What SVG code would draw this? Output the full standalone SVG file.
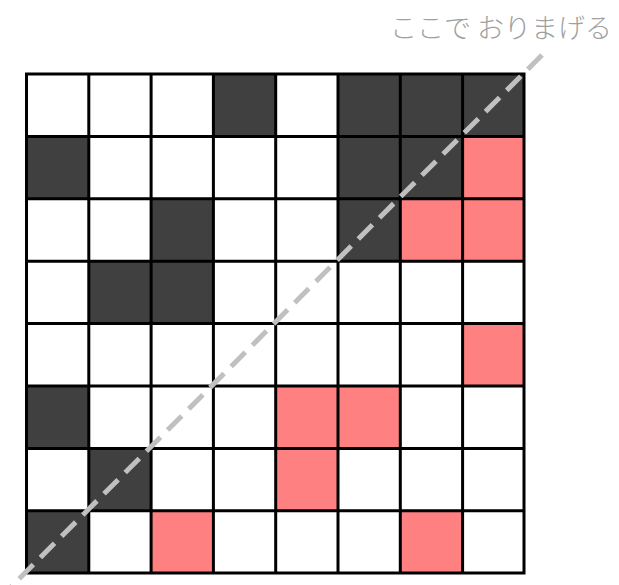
<svg xmlns="http://www.w3.org/2000/svg" width="619" height="585" viewBox="0 0 619 585">
<style>
.w{fill:#ffffff}
.d{fill:#404040}
.p{fill:#ff8080}
.g{stroke:#000;stroke-width:3;fill:none}
.fold{stroke:#c0c0c0;stroke-width:5;stroke-dasharray:20 10;fill:none}
.lbl{font-family:"Noto Sans CJK JP","Noto Sans",sans-serif;font-size:27px;font-weight:300;fill:#a0a0a0}
</style>
<rect width="619" height="585" fill="#fff"/>
<g id="cells">
<rect class="w" x="26.5" y="74" width="497.5" height="499"/>
<!-- row 0 -->
<rect class="d" x="213.4" y="74" width="62.3" height="62.4"/>
<rect class="d" x="338" y="74" width="62.3" height="62.4"/>
<rect class="d" x="400.3" y="74" width="62.3" height="62.4"/>
<rect class="d" x="462.6" y="74" width="61.4" height="62.4"/>
<!-- row 1 -->
<rect class="d" x="26.5" y="136.4" width="62.3" height="62.4"/>
<rect class="d" x="338" y="136.4" width="62.3" height="62.4"/>
<rect class="d" x="400.3" y="136.4" width="62.3" height="62.4"/>
<rect class="p" x="462.6" y="136.4" width="61.4" height="62.4"/>
<!-- row 2 -->
<rect class="d" x="151.1" y="198.8" width="62.3" height="62.4"/>
<rect class="d" x="338" y="198.8" width="62.3" height="62.4"/>
<rect class="p" x="400.3" y="198.8" width="62.3" height="62.4"/>
<rect class="p" x="462.6" y="198.8" width="61.4" height="62.4"/>
<!-- row 3 -->
<rect class="d" x="88.8" y="261.2" width="62.3" height="62.4"/>
<rect class="d" x="151.1" y="261.2" width="62.3" height="62.4"/>
<!-- row 4 -->
<rect class="p" x="462.6" y="323.6" width="61.4" height="62.4"/>
<!-- row 5 -->
<rect class="d" x="26.5" y="386" width="62.3" height="62.4"/>
<rect class="p" x="275.7" y="386" width="62.3" height="62.4"/>
<rect class="p" x="338" y="386" width="62.3" height="62.4"/>
<!-- row 6 -->
<rect class="d" x="88.8" y="448.4" width="62.3" height="62.4"/>
<rect class="p" x="275.7" y="448.4" width="62.3" height="62.4"/>
<!-- row 7 -->
<rect class="d" x="26.5" y="510.8" width="62.3" height="62.2"/>
<rect class="p" x="151.1" y="510.8" width="62.3" height="62.2"/>
<rect class="p" x="400.3" y="510.8" width="62.3" height="62.2"/>
</g>
<g id="grid" class="g">
<rect x="26.5" y="74" width="497.5" height="499"/>
<path d="M88.8 74V573M151.1 74V573M213.4 74V573M275.7 74V573M338 74V573M400.3 74V573M462.6 74V573"/>
<path d="M26.5 136.4H524M26.5 198.8H524M26.5 261.2H524M26.5 323.6H524M26.5 386H524M26.5 448.4H524M26.5 510.8H524"/>
</g>
<g id="connectors">
<line class="fold" x1="542" y1="55" x2="-12" y2="610"/>
</g>
<g id="label">
<text class="lbl" x="612" y="38" text-anchor="end">ここで おりまげる</text>
</g>
</svg>
